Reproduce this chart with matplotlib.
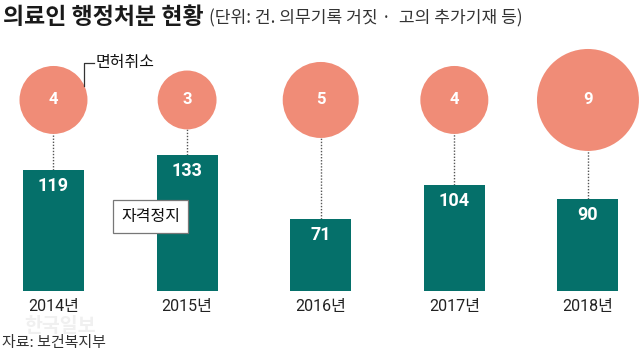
import matplotlib.pyplot as plt
from matplotlib.lines import Line2D

years = ["2014년", "2015년", "2016년", "2017년", "2018년"]
suspended = [119, 133, 71, 104, 90]   # 자격정지
revoked = [4, 3, 5, 4, 9]             # 면허취소

TEAL = "#05706a"
SALMON = "#f08c77"
KR = ["Noto Sans CJK KR", "DejaVu Sans"]
NUM = ["Liberation Sans Narrow", "Roboto", "Noto Sans CJK KR"]

plt.rcParams["font.family"] = KR

fig = plt.figure(figsize=(6.4, 3.53), dpi=100)
ax = fig.add_axes([0.0105, 0.1756, 0.98125, 0.6646])
ax.set_xlim(-0.35, 4.35)
ax.set_ylim(0, 230)
ax.axis("off")

x = list(range(len(years)))
circle_y = 187.3

ax.bar(x, suspended, width=0.457, color=TEAL, zorder=2)
ax.vlines(x, suspended, [circle_y] * len(x), colors="#555555",
          linestyles=(0, (1, 1.2)), linewidth=1.0, zorder=1)
ax.scatter(x, [circle_y] * len(x), s=[599 * v for v in revoked],
           color=SALMON, edgecolors="none", zorder=3, clip_on=False)

for xi, v in zip(x, suspended):
    ax.annotate(str(v), (xi, v), xytext=(0, -11.5), textcoords="offset points",
                ha="center", va="center", color="white", fontsize=13,
                fontweight="bold", family=NUM, zorder=4)
for xi, v in zip(x, revoked):
    ax.annotate(str(v), (xi, circle_y), ha="center", va="center", color="white",
                fontsize=12, fontweight="bold", family=NUM, zorder=4,
                annotation_clip=False)
for xi, lab in zip(x, years):
    ax.annotate(lab, (xi, 0), xytext=(0, -11.5), textcoords="offset points",
                ha="center", va="center", color="#222222", fontsize=11.5,
                family=NUM, annotation_clip=False)

# title & notes
fig.text(3 / 640, 1 - 17 / 353, "의료인 행정처분 현황", fontsize=16.5, fontweight="heavy",
         color="#1a1a1a", va="center", ha="left")
fig.text(209 / 640, 1 - 18 / 353, "(단위: 건. 의무기록 거짓 ·  고의 추가기재 등)",
         fontsize=12.3, color="#333333", va="center", ha="left")
fig.text(2 / 640, 1 - 343 / 353, "자료: 보건복지부", fontsize=10.8,
         color="#333333", va="center", ha="left")
fig.text(24 / 640, 1 - 326 / 353, "한국일보", fontsize=14, fontweight="bold",
         color="#f0f0f0", va="center", ha="left", zorder=0)

# legend labels
fig.text(96 / 640, 1 - 63 / 353, "면허취소", fontsize=11.5, color="#111111",
         va="center", ha="left")
fig.add_artist(Line2D([84 / 640, 84 / 640, 94 / 640],
                      [1 - 86 / 353, 1 - 63 / 353, 1 - 63 / 353],
                      color="#333333", linewidth=0.9))
fig.text(150.5 / 640, 1 - 216.5 / 353, "자격정지", fontsize=11.5, color="#111111",
         va="center", ha="center", zorder=5,
         bbox=dict(boxstyle="square,pad=0.5", facecolor="white",
                   edgecolor="#777777", linewidth=0.9))

fig.savefig("out.png", dpi=100)
